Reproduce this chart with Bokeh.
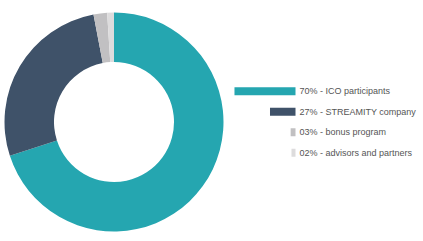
import numpy as np
from bokeh.plotting import figure
from bokeh.models import Range1d, ColumnDataSource
from bokeh.core.properties import value
from bokeh.embed import file_html
from bokeh.resources import INLINE

categories = ["ICO participants", "STREAMITY company", "bonus program", "advisors and partners"]
shares = [70, 27, 2, 1]                 # slice sizes as drawn
labels_pct = ["70%", "27%", "03%", "02%"]  # legend percentages as printed
colors = ["#25a6b0", "#3f5269", "#c1c0c2", "#dddcdd"]

W, H = 423, 241
p = figure(width=W, height=H, output_backend="svg", toolbar_location=None,
           x_range=Range1d(0, W), y_range=Range1d(0, H), min_border=0)
p.axis.visible = False
p.grid.visible = False
p.outline_line_color = None
p.background_fill_color = "white"

vals = np.array(shares, dtype=float)
frac = vals / vals.sum()
cum_end = np.cumsum(frac)
cum_start = cum_end - frac
start = np.pi / 2 - cum_end * 2 * np.pi
end = np.pi / 2 - cum_start * 2 * np.pi

cx, cy = 113.5, H - 121.5
src = ColumnDataSource(dict(start=start, end=end, color=colors))
p.annular_wedge(x=cx, y=cy, inner_radius=60, outer_radius=109.5,
                start_angle="start", end_angle="end", color="color",
                line_color=None, source=src)

# legend
ys = [H - 90.7 - i * 20.5 for i in range(len(categories))]
bar_len = [3.2 + 0.826 * v for v in shares]
right = 295
lsrc = ColumnDataSource(dict(y=ys, left=[right - b for b in bar_len],
                             right=[right] * len(ys), color=colors,
                             text=[f"{pct} - {c}" for pct, c in zip(labels_pct, categories)]))
p.hbar(y="y", left="left", right="right", height=8, color="color",
       line_color=None, source=lsrc)
p.text(x=299, y="y", text="text", source=lsrc, text_font=value("Liberation Sans"),
       text_font_size="9px", text_color="#555555", text_baseline="middle",
       text_align="left")

open("out.html", "w").write(file_html(p, INLINE))
